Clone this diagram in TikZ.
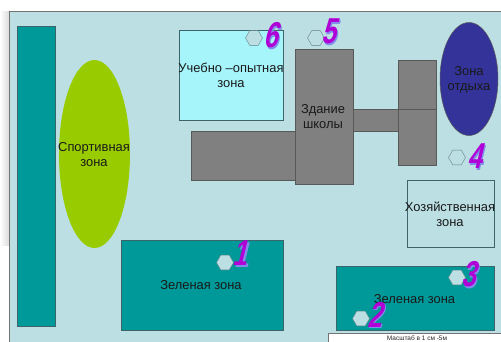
\documentclass[tikz,border=0pt]{standalone}
\usepackage{fontspec}
\setmainfont{Liberation Sans}
\usetikzlibrary{shapes.geometric}
\definecolor{ground}{RGB}{187,223,227}
\definecolor{teal}{RGB}{0,153,153}
\definecolor{grass}{RGB}{153,204,0}
\definecolor{lake}{RGB}{51,51,153}
\definecolor{study}{RGB}{166,245,251}
\definecolor{house}{RGB}{128,128,128}
\definecolor{edge}{RGB}{60,100,105}
\definecolor{numpurple}{RGB}{176,0,214}
\definecolor{numshadow}{RGB}{130,140,235}
\tikzset{
  zone/.style={draw=edge,line width=0.8pt},
  block/.style={draw=black!65,fill=house,line width=0.8pt},
  lbl/.style={font=\fontsize{12.9}{15}\selectfont,align=center,text=black!90},
  hex/.style={regular polygon,regular polygon sides=6,draw=edge!80,fill=ground,minimum size=17pt,inner sep=0pt},
  numfront/.style={text=numpurple,font=\fontsize{36}{36}\bfseries\selectfont,transform shape,xslant=0.25,xscale=0.72,inner sep=0pt},
  numback/.style={numfront,text=numshadow}
}
\begin{document}
\begin{tikzpicture}[x=1pt,y=-1pt]
\useasboundingbox (0,0) rectangle (501,341);
\clip (0,0) rectangle (501,341);
\shade[left color=white,right color=black!14] (0,11) rectangle (9,245);
\draw[draw=black!55,fill=ground,line width=0.8pt] (9.5,11.5) rectangle (510,350);
\draw[zone,fill=teal] (17,26) rectangle (55,326);
\fill[grass] (94.5,154) ellipse[x radius=35.5,y radius=94];
\node[lbl] (sport) at (94,154.5) {Спортивная\\зона};
\draw[zone,fill=study] (179.5,30.5) rectangle (283,120.5);
\node[lbl] (study) at (231,75.5) {Учебно –опытная\\зона};
\draw[block] (191,131) rectangle (295,180);
\draw[block] (353,109.5) rectangle (398,131);
\draw[block] (398,60) rectangle (436,165);
\draw[black!65,line width=0.8pt] (398,109.5) -- (436,109.5);
\draw[block] (295,49.5) rectangle (353,184);
\node[lbl] (school) at (323,116.5) {Здание\\школы};
\draw[black!65,fill=lake,line width=0.5pt] (469,79) ellipse[x radius=29,y radius=56.5];
\node[lbl] (rest) at (469,79.5) {Зона\\отдыха};
\draw[zone,fill=ground] (407,180.5) rectangle (494,247);
\node[lbl] (farm) at (450,214) {Хозяйственная\\зона};
\draw[zone,fill=teal] (121,240.5) rectangle (283,330.5);
\node[lbl] (green1) at (201,285.5) {Зеленая зона};
\draw[zone,fill=teal] (336.5,266.5) rectangle (494,330.5);
\node[lbl] (green2) at (414.5,299) {Зеленая зона};
\draw[draw=black!55,fill=white,line width=0.5pt] (328,333.5) rectangle (510,350);
\node[font=\fontsize{6.5}{7}\selectfont,text=black!85] (scale) at (417,338.5) {Масштаб в 1 см -5м};
\node[hex] (h1) at (225,262.5) {};
\node[hex] (h2) at (361,318.5) {};
\node[hex] (h3) at (457,277.5) {};
\node[hex] (h4) at (457,157.5) {};
\node[hex] (h5) at (316,38) {};
\node[hex] (h6) at (254,38) {};
\node[numback] at (245,255) {1};
\node[numfront] (n1) at (243,253.5) {1};
\node[numback] at (379,316) {2};
\node[numfront] (n2) at (377.5,314.5) {2};
\node[numback] at (473,276) {3};
\node[numfront] (n3) at (471.5,274.5) {3};
\node[numback] at (479,158) {4};
\node[numfront] (n4) at (477.5,156.5) {4};
\node[numback] at (333,33) {5};
\node[numfront] (n5) at (331.5,31.5) {5};
\node[numback] at (275,37) {6};
\node[numfront] (n6) at (273.5,35.5) {6};
\end{tikzpicture}
\end{document}
